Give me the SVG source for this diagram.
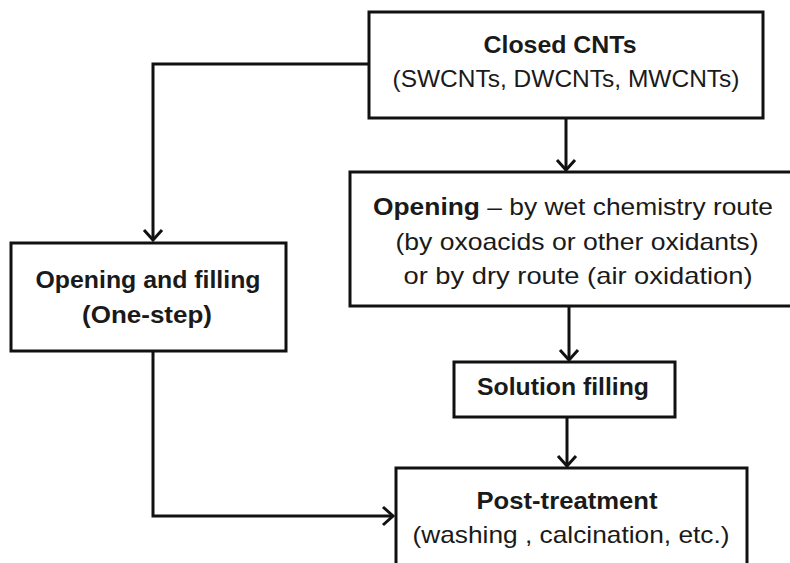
<svg xmlns="http://www.w3.org/2000/svg" width="790" height="563" viewBox="0 0 790 563">
<style>
.box{fill:#fff;stroke:#111;stroke-width:3}
.t{font-family:"Liberation Sans",Arial,sans-serif;font-size:24px;fill:#1a1a1a;text-anchor:middle}
.b{font-weight:bold}
.c{fill:none;stroke:#111;stroke-width:3}
</style>
<defs>
<marker id="ah" markerUnits="userSpaceOnUse" markerWidth="22" markerHeight="22" refX="13" refY="11" orient="auto">
<path d="M3,2 L13,11 L3,20" fill="none" stroke="#111" stroke-width="3"/>
</marker>
</defs>
<rect width="790" height="563" fill="#fff"/>
<g id="connectors">
<path class="c" d="M368,64 L153,64 L153,240" marker-end="url(#ah)"/>
<path class="c" d="M566,118 L566,170" marker-end="url(#ah)"/>
<path class="c" d="M569,306 L569,360" marker-end="url(#ah)"/>
<path class="c" d="M567,418 L567,466" marker-end="url(#ah)"/>
<path class="c" d="M153,351 L153,516 L393,516" marker-end="url(#ah)"/>
</g>
<g id="closed">
<rect class="box" x="369" y="12" width="394" height="106"/>
<text class="t b" x="560" y="53" textLength="153" lengthAdjust="spacingAndGlyphs">Closed CNTs</text>
<text class="t" x="566" y="87" textLength="347" lengthAdjust="spacingAndGlyphs">(SWCNTs, DWCNTs, MWCNTs)</text>
</g>
<g id="opening">
<rect class="box" x="350" y="172" width="460" height="134"/>
<text class="t" x="573" y="215" textLength="400" lengthAdjust="spacingAndGlyphs"><tspan class="b">Opening</tspan> – by wet chemistry route</text>
<text class="t" x="577" y="250" textLength="363" lengthAdjust="spacingAndGlyphs">(by oxoacids or other oxidants)</text>
<text class="t" x="578" y="284" textLength="349" lengthAdjust="spacingAndGlyphs">or by dry route (air oxidation)</text>
</g>
<g id="onestep">
<rect class="box" x="11" y="243" width="275" height="108"/>
<text class="t b" x="148" y="288" textLength="225" lengthAdjust="spacingAndGlyphs">Opening and filling</text>
<text class="t b" x="147" y="323" textLength="130" lengthAdjust="spacingAndGlyphs">(One-step)</text>
</g>
<g id="solution">
<rect class="box" x="454" y="362" width="221" height="55"/>
<text class="t b" x="563" y="395" textLength="172" lengthAdjust="spacingAndGlyphs">Solution filling</text>
</g>
<g id="post">
<rect class="box" x="396" y="468" width="351" height="120"/>
<text class="t b" x="567" y="509" textLength="181" lengthAdjust="spacingAndGlyphs">Post-treatment</text>
<text class="t" x="571" y="543" textLength="317" lengthAdjust="spacingAndGlyphs">(washing , calcination, etc.)</text>
</g>
</svg>
